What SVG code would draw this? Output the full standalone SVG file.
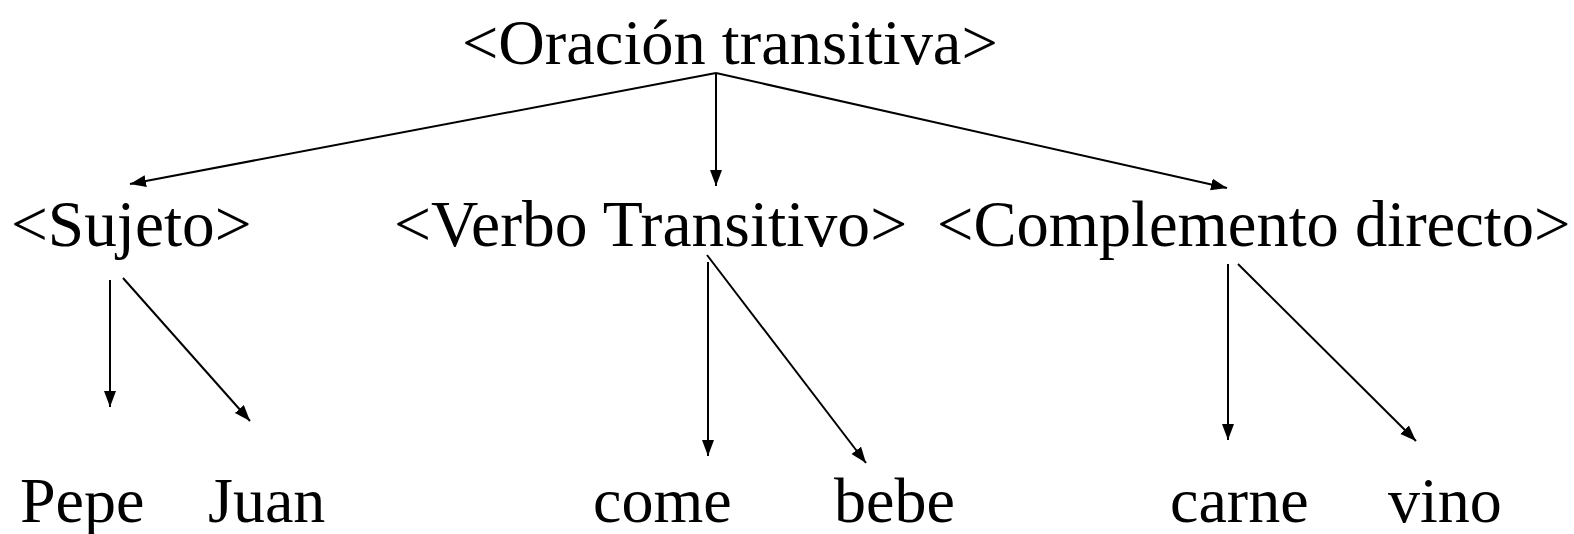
<svg xmlns="http://www.w3.org/2000/svg" width="1574" height="534" viewBox="0 0 1574 534">
<style>
text { font-family: "Liberation Serif", "Times New Roman", serif; font-size: 64px; fill: #000; }
.c line { stroke: #000; stroke-width: 2; marker-end: url(#ah); }
</style>
<defs>
<marker id="ah" markerUnits="userSpaceOnUse" markerWidth="18" markerHeight="14" refX="16" refY="6" orient="auto">
<path d="M0,0 L16,6 L0,12 z" fill="#000"/>
</marker>
</defs>
<rect width="1574" height="534" fill="#fff"/>
<g id="n-oracion"><text x="462" y="64" style="font-size:64.4px">&lt;Oración transitiva&gt;</text></g>
<g id="n-sujeto"><text x="11" y="246" style="font-size:65.3px">&lt;Sujeto&gt;</text></g>
<g id="n-verbo"><text x="394" y="246" style="font-size:65.6px">&lt;Verbo Transitivo&gt;</text></g>
<g id="n-complemento"><text x="937" y="246" style="font-size:64.5px">&lt;Complemento directo&gt;</text></g>
<g id="n-pepe"><text x="20" y="522">Pepe</text></g>
<g id="n-juan"><text x="208" y="522">Juan</text></g>
<g id="n-come"><text x="593" y="522">come</text></g>
<g id="n-bebe"><text x="834" y="522">bebe</text></g>
<g id="n-carne"><text x="1170" y="522">carne</text></g>
<g id="n-vino"><text x="1388" y="522">vino</text></g>
<g id="connectors" class="c">
<line x1="716" y1="73" x2="130" y2="184"/>
<line x1="716" y1="73" x2="716" y2="186"/>
<line x1="716" y1="73" x2="1227" y2="188"/>
<line x1="110" y1="280" x2="110" y2="407"/>
<line x1="123" y1="278" x2="250" y2="421"/>
<line x1="708" y1="262" x2="708" y2="456"/>
<line x1="707" y1="255" x2="866" y2="463"/>
<line x1="1228" y1="264" x2="1228" y2="440"/>
<line x1="1238" y1="264" x2="1416" y2="441"/>
</g>
</svg>
